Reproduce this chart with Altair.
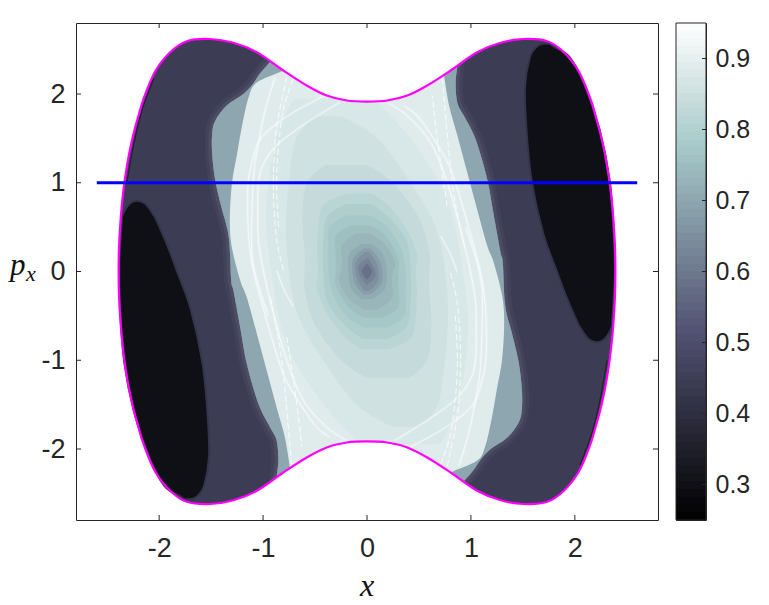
import altair as alt
import numpy as np
import pandas as pd

# --- outer energy boundary, upper-left quadrant (x, p)
EDGE_X = [-2.39,-2.385,-2.37,-2.35,-2.327,-2.29,-2.247,-2.2,-2.15,-2.04,-1.894,-1.734,-1.51,-1.285,-1.06,-0.805,-0.58,-0.388,-0.195,0.0]
EDGE_P = [0.0,0.3,0.6,0.85,1.06,1.32,1.55,1.75,1.945,2.25,2.47,2.595,2.62,2.577,2.47,2.265,2.096,1.983,1.927,1.915]

# --- thin dark rim just inside the boundary, upper left
RIM_X = [-2.31,-2.25,-2.17,-2.05]
RIM_P = [1.0,1.4,1.8,2.18]

# --- grey band, left edge (p, x)
GREY_P = [2.45,2.36,2.23,2.115,2.0,1.87,1.70,1.55,1.325,1.026,0.72,0.386,-0.1,-0.214,-0.63,-1.04,-1.49,-1.754,-1.90,-2.13,-2.32,-2.45]
GREY_L = [-0.85,-0.933,-1.03,-1.096,-1.19,-1.35,-1.46,-1.49,-1.49,-1.46,-1.40,-1.33,-1.307,-1.285,-1.22,-1.157,-1.045,-0.933,-0.87,-0.853,-0.87,-0.87]

# --- pale chaotic sea, left edge
SEA_P = [2.35,2.265,2.13,1.96,1.625,1.325,0.99,0.575,0.27,-0.1,-0.29,-0.70,-1.115,-1.53,-1.87,-2.22,-2.3]
SEA_L = [-0.72,-0.805,-1.06,-1.14,-1.205,-1.25,-1.30,-1.32,-1.30,-1.22,-1.157,-1.06,-0.965,-0.87,-0.79,-0.74,-0.73]
SEAM = 0.02

# --- black lobe, right side
LOBE_P = [-0.80,-0.76,-0.63,-0.55,-0.29,0.01,0.43,1.026,1.59,2.08,2.415,2.53,2.565]
LOBE_L = [2.215,2.13,2.05,2.016,1.92,1.824,1.695,1.584,1.535,1.52,1.567,1.63,1.695]
LOBE_R = [2.215,2.288,2.353,2.36,2.375,2.385,2.375,2.335,2.24,2.10,1.95,1.80,1.76]

# --- contours round the centre, upper half: value, p, left, right
CONTOUR_V = [0.873,0.855,0.835,0.815,0.795,0.775,0.755,0.735,0.71,0.68,0.65,0.62,0.58]
CONTOUR_P = [[1.95,1.6,1.0,0.5,0.0],[1.75,1.5,1.0,0.5,0.0],[1.2,1.0,0.6,0.2,0.0],[0.88,0.75,0.5,0.2,0.0],[0.76,0.62,0.35,0.0],[0.63,0.5,0.25,0.0],[0.52,0.4,0.15,0.0],[0.43,0.3,0.1,0.0],[0.31,0.2,0.0],[0.26,0.15,0.0],[0.22,0.12,0.0],[0.15,0.08,0.0],[0.09,0.0]]
CONTOUR_L = [[-0.7,-0.85,-0.95,-0.97,-0.92],[-0.5,-0.68,-0.75,-0.78,-0.75],[-0.4,-0.58,-0.62,-0.6,-0.6],[-0.2,-0.42,-0.47,-0.48,-0.47],[-0.2,-0.38,-0.42,-0.42],[-0.2,-0.36,-0.37,-0.37],[-0.15,-0.3,-0.3,-0.3],[-0.1,-0.24,-0.24,-0.25],[-0.05,-0.17,-0.18],[-0.03,-0.13,-0.14],[-0.02,-0.10,-0.11],[0.0,-0.07,-0.08],[0.0,-0.05]]
CONTOUR_R = [[0.05,0.35,0.7,0.85,0.92],[-0.25,0.1,0.42,0.66,0.75],[0.0,0.25,0.5,0.6,0.6],[0.05,0.2,0.37,0.48,0.47],[0.04,0.2,0.38,0.42],[0.03,0.2,0.33,0.37],[0.03,0.18,0.3,0.3],[0.03,0.18,0.27,0.25],[0.05,0.15,0.19],[0.03,0.11,0.15],[0.02,0.08,0.11],[0.01,0.05,0.08],[0.0,0.05]]

# --- bright filaments in the sea (left side; the right side is their point reflection)
FIL_X = [
 [-0.404,-0.756,-1.013,-1.093,-1.141,-1.148,-1.135,-1.093,-0.965,-0.805,-0.644,-0.484,-0.356],
 [-0.26,-0.596,-0.853,-0.997,-1.045,-1.05,-1.045,-0.997,-0.9,-0.772,-0.612,-0.388,-0.195],
 [-0.885,-0.98,-1.045,-1.093,-1.11,-1.08,-0.95],
 [-0.868,-0.80,-0.709],
]
FIL_P = [
 [1.983,1.758,1.513,1.288,1.025,0.687,0.35,0.01,-0.552,-1.153,-1.49,-1.754,-1.866],
 [1.908,1.664,1.439,1.213,0.988,0.687,0.35,0.01,-0.477,-1.003,-1.454,-1.754,-1.904],
 [2.19,1.814,1.439,1.06,0.35,0.0,-0.5],
 [0.01,-0.2,-0.40],
]
# --- the broken, dashed-looking filaments
DASH_X = [
 [-0.772,-0.853,-0.891,-0.9,-0.868,-0.80],
 [-0.71,-0.80,-0.85,-0.87,-0.85],
 [-0.772,-0.676,-0.628],
 [-0.93,-0.82,-0.724],
]
DASH_P = [
 [2.19,1.74,1.37,0.877,0.35,0.0],
 [2.17,1.85,1.43,1.0,0.5],
 [-0.74,-1.49,-1.98],
 [-0.3,-1.0,-2.2],
]

# --- axes and colour bar
X_TICKS = [-2,-1,0,1,2]
Y_TICKS = [-2,-1,0,1,2]
CB_TICKS = [0.3,0.4,0.5,0.6,0.7,0.8,0.9]
V_DARK, V_GREY, V_SEA, V_LOBE = 0.445, 0.70, 0.89, 0.30
BONE_DOMAIN = [0.25,0.5125,0.775,0.95]
BONE_RANGE = ["#000000","#515171","#a6c8c8","#ffffff"]
W, H = 582, 497
TICK = "#262626"
HALO = "#55556f"
LABEL_FONT = "Liberation Sans"
MATH_FONT = "Liberation Serif"

xs = alt.Scale(domain=[-2.8,2.8], nice=False, zero=False)
ys = alt.Scale(domain=[-2.8,2.8], nice=False, zero=False)
cs = alt.Scale(domain=BONE_DOMAIN, range=BONE_RANGE, interpolate="rgb")
col = alt.Color("v:Q", scale=cs, legend=None)
xax = alt.Axis(values=X_TICKS, grid=False, ticks=False, domain=False, labelFont=LABEL_FONT, labelFontSize=27,
               labelColor=TICK, labelPadding=15, labelExpr="''+datum.value", labelFlush=False)
yax = alt.Axis(values=Y_TICKS, grid=False, ticks=False, domain=False, labelFont=LABEL_FONT, labelFontSize=27,
               labelColor=TICK, labelPadding=11, labelExpr="''+datum.value", labelFlush=False)


def X(f):
    return alt.X(f, scale=xs, axis=xax, title=None)


def Y(f):
    return alt.Y(f, scale=ys, axis=yax, title=None)


def hband(p, l, r, v, interpolate="cardinal", **kw):
    df = pd.DataFrame({"p": p, "xl": l, "xr": r, "v": v})
    return alt.Chart(df).mark_area(orient="horizontal", interpolate=interpolate, **kw).encode(
        x=X("xl:Q"), x2="xr:Q", y=Y("p:Q"), color=col)


def mirror(p, l, r):
    return [-a for a in p], [-a for a in r], [-a for a in l]


def poly(xlist, plist, prefix):
    rows = []
    for i, (fx, fp) in enumerate(zip(xlist, plist)):
        for j, (a, b) in enumerate(zip(fx, fp)):
            rows.append({"id": f"{prefix}L{i}", "i": j, "x": a, "p": b})
            rows.append({"id": f"{prefix}R{i}", "i": j, "x": -a, "p": -b})
    return pd.DataFrame(rows)


# base domain
top_x = EDGE_X + [-a for a in EDGE_X[-2::-1]]
top_p = EDGE_P + EDGE_P[-2::-1]
base = alt.Chart(pd.DataFrame({"x": top_x, "p": top_p, "p2": [-a for a in top_p], "v": V_DARK})).mark_area(
    interpolate="monotone").encode(x=X("x:Q"), y=Y("p:Q"), y2="p2:Q", color=col)

layers = [base]
rim = poly([RIM_X], [RIM_P], "rim")
layers.append(alt.Chart(rim).mark_line(interpolate="cardinal", color="#22222c", strokeWidth=1.2).encode(
    x=X("x:Q"), y=Y("p:Q"), detail="id:N", order="i:Q"))

# soft lighter fringe of the dark region where it meets the grey band
grey_right = [SEAM] * len(GREY_P)
for sw, op in [(14, 0.25), (7, 0.5)]:
    for args in [(GREY_P, GREY_L, grey_right), mirror(GREY_P, GREY_L, grey_right)]:
        layers.append(hband(*args, V_GREY, stroke=HALO, strokeWidth=sw, strokeOpacity=op))

for lst_p, lst_l, v in [(GREY_P, GREY_L, V_GREY), (SEA_P, SEA_L, V_SEA)]:
    right = [SEAM] * len(lst_p)
    layers += [hband(lst_p, lst_l, right, v), hband(*mirror(lst_p, lst_l, right), v)]
for v, p, l, r in zip(CONTOUR_V, CONTOUR_P, CONTOUR_L, CONTOUR_R):
    mp, ml, mr = mirror(p[:-1], l[:-1], r[:-1])
    layers.append(hband(p + mp[::-1], l + ml[::-1], r + mr[::-1], v))

fil_df = poly(FIL_X, FIL_P, "f")
dash_df = poly(DASH_X, DASH_P, "d")
for sw, op in [(3.0, 0.16), (1.0, 0.65)]:
    layers.append(alt.Chart(fil_df).mark_line(interpolate="cardinal", color="#ffffff", strokeWidth=sw, opacity=op).encode(
        x=X("x:Q"), y=Y("p:Q"), detail="id:N", order="i:Q"))
layers.append(alt.Chart(dash_df).mark_line(interpolate="cardinal", color="#ffffff", strokeWidth=1.1, opacity=0.75,
                                           strokeDash=[6, 3]).encode(
    x=X("x:Q"), y=Y("p:Q"), detail="id:N", order="i:Q"))

# white caps above and below the waist of the boundary
mask_x = [a for a in top_x if abs(a) <= 1.51]
mask_p = [b for a, b in zip(top_x, top_p) if abs(a) <= 1.51]
for sign in (1, -1):
    layers.append(alt.Chart(pd.DataFrame({"x": mask_x, "p": [sign * b for b in mask_p], "p2": sign * 2.79})).mark_area(
        interpolate="monotone", color="#ffffff").encode(x=X("x:Q"), y=Y("p:Q"), y2="p2:Q"))

layers += [hband(LOBE_P, LOBE_L, LOBE_R, V_LOBE, stroke="#34344a", strokeWidth=2),
           hband(*mirror(LOBE_P, LOBE_L, LOBE_R), V_LOBE, stroke="#34344a", strokeWidth=2)]

loop_x = top_x + top_x[-2:0:-1]
loop_p = top_p + [-a for a in top_p[-2:0:-1]]
edge = alt.Chart(pd.DataFrame({"x": loop_x, "p": loop_p, "i": range(len(loop_x))})).mark_line(
    interpolate="cardinal-closed", color="#ff00ff", strokeWidth=2.2).encode(x=X("x:Q"), y=Y("p:Q"), order="i:Q")
layers.append(edge)

section = alt.Chart(pd.DataFrame({"x": [-2.6, 2.6], "p": [1, 1]})).mark_line(color="#0000ff", strokeWidth=3).encode(
    x=X("x:Q"), y=Y("p:Q"))
layers.append(section)

xt = pd.DataFrame({"t": X_TICKS})
yt = pd.DataFrame({"t": Y_TICKS})
for a, b in [(H, H - 5), (0, 5)]:
    layers.append(alt.Chart(xt).mark_rule(color=TICK, strokeWidth=1).encode(x=X("t:Q"), y=alt.value(a), y2=alt.value(b)))
for a, b in [(0, 5), (W, W - 5)]:
    layers.append(alt.Chart(yt).mark_rule(color=TICK, strokeWidth=1).encode(y=Y("t:Q"), x=alt.value(a), x2=alt.value(b)))


def label(txt, x, y, size, align="left"):
    return alt.Chart(pd.DataFrame({"s": [txt]})).mark_text(
        font=MATH_FONT, fontStyle="italic", fontSize=size, color="#111111", align=align, baseline="alphabetic"
    ).encode(text="s:N", x=alt.value(x), y=alt.value(y))


layers += [label("p", -66, 252, 31), label("x", -50, 258, 22), label("x", W / 2, 573, 32, "center")]

main = alt.layer(*layers).properties(width=W, height=H)

# colour bar: 64 levels of the bone map, each painted from its level up to the top
edges = np.linspace(0.25, 0.95, 65)
cb_df = pd.DataFrame({"lo": edges[:-1], "hi": 0.95, "v": (edges[:-1] + edges[1:]) / 2})
cys = alt.Scale(domain=[0.25, 0.95], nice=False, zero=False)
cbax = alt.Axis(orient="right", values=CB_TICKS, format=".1f", grid=False, ticks=False, domain=False,
                labelFont=LABEL_FONT, labelFontSize=25, labelColor=TICK, labelPadding=9, labelFlush=False)
cb_rect = alt.Chart(cb_df).mark_rect().encode(
    y=alt.Y("lo:Q", scale=cys, title=None, axis=cbax),
    y2="hi:Q", x=alt.value(0), x2=alt.value(30), color=col, order="lo:Q")
cb_ticks = alt.Chart(pd.DataFrame({"t": CB_TICKS})).mark_rule(color=TICK, strokeWidth=1).encode(
    y=alt.Y("t:Q", scale=cys, title=None, axis=cbax), x=alt.value(30), x2=alt.value(26))
cb_frame = alt.Chart(pd.DataFrame({"a": [0]})).mark_rect(filled=False, stroke=TICK, strokeWidth=1).encode(
    x=alt.value(0), x2=alt.value(30), y=alt.value(0), y2=alt.value(H))
cbar = alt.layer(cb_rect, cb_ticks, cb_frame).properties(width=30, height=H)

chart = alt.hconcat(main, cbar, spacing=16).properties(
    padding={"left": 1, "top": 14, "right": 0, "bottom": 0}, background="white"
).configure_view(stroke=TICK, strokeWidth=1)

chart.save("out.html", embed_options={"renderer": "svg", "actions": False})
